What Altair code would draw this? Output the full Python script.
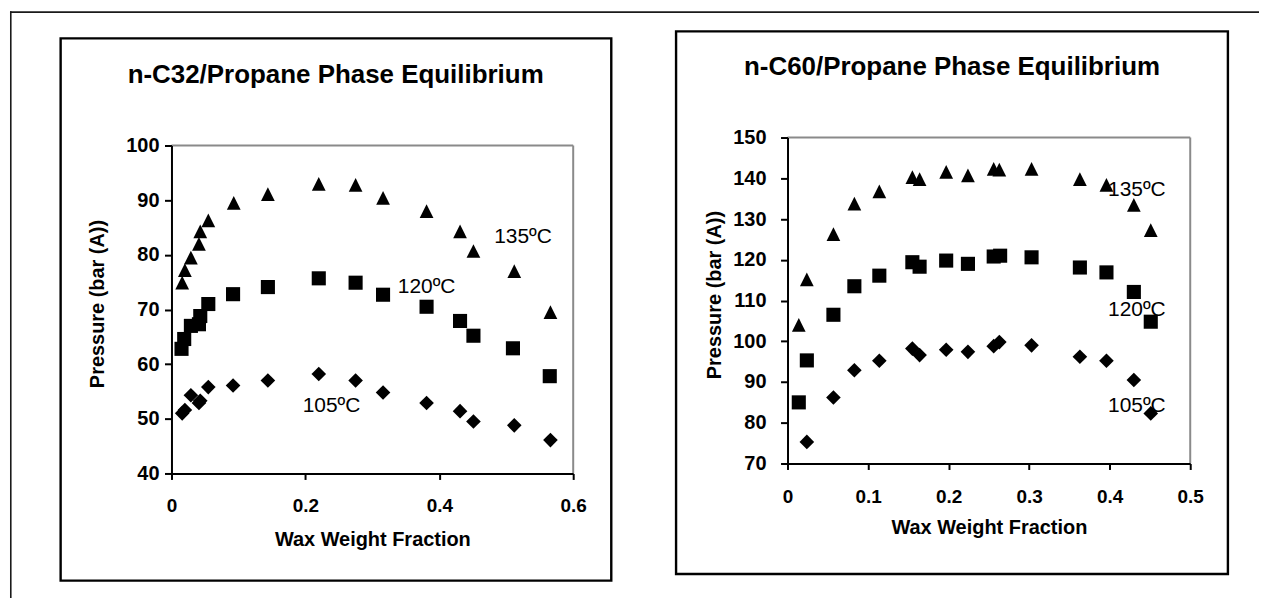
import altair as alt
import pandas as pd

FONT = "Liberation Sans"

# ---------------- n-C32 / Propane ----------------
c32_x_135 = [0.016, 0.020, 0.029, 0.041, 0.043, 0.055, 0.093, 0.144, 0.220, 0.275, 0.316, 0.381, 0.431, 0.451, 0.512, 0.566]
c32_p_135 = [74.9, 77.2, 79.5, 82.0, 84.3, 86.3, 89.5, 91.1, 93.0, 92.8, 90.4, 88.0, 84.3, 80.7, 77.0, 69.5]
c32_x_120 = [0.015, 0.019, 0.029, 0.041, 0.043, 0.055, 0.092, 0.144, 0.220, 0.275, 0.316, 0.381, 0.431, 0.451, 0.510, 0.565]
c32_p_120 = [62.8, 64.6, 67.0, 67.3, 68.8, 71.0, 72.8, 74.1, 75.7, 74.9, 72.7, 70.5, 67.9, 65.2, 62.9, 57.8]
c32_x_105 = [0.016, 0.020, 0.029, 0.041, 0.043, 0.055, 0.092, 0.144, 0.220, 0.275, 0.316, 0.381, 0.431, 0.451, 0.512, 0.566]
c32_p_105 = [51.0, 51.6, 54.3, 52.9, 53.3, 55.8, 56.1, 57.0, 58.2, 57.0, 54.8, 52.9, 51.4, 49.5, 48.8, 46.1]

# ---------------- n-C60 / Propane ----------------
c60_x_135 = [0.014, 0.024, 0.057, 0.083, 0.114, 0.155, 0.164, 0.197, 0.224, 0.256, 0.263, 0.303, 0.363, 0.396, 0.430, 0.451]
c60_p_135 = [104.0, 115.2, 126.3, 133.8, 136.8, 140.3, 139.8, 141.6, 140.7, 142.3, 142.1, 142.3, 139.8, 138.4, 133.5, 127.3]
c60_x_120 = [0.014, 0.024, 0.057, 0.083, 0.114, 0.155, 0.164, 0.197, 0.224, 0.256, 0.264, 0.303, 0.363, 0.396, 0.430, 0.451]
c60_p_120 = [85.0, 95.3, 106.5, 113.5, 116.1, 119.4, 118.3, 119.8, 119.0, 120.8, 121.0, 120.6, 118.1, 116.9, 112.1, 104.8]
c60_x_105 = [0.024, 0.057, 0.083, 0.114, 0.155, 0.164, 0.197, 0.224, 0.256, 0.263, 0.303, 0.363, 0.396, 0.430, 0.451]
c60_p_105 = [75.3, 86.2, 92.9, 95.2, 98.2, 96.6, 97.9, 97.4, 98.8, 99.8, 99.0, 96.2, 95.2, 90.5, 82.3]

series_names = ["135ºC", "120ºC", "105ºC"]
c32_label_x = [0.482, 0.338, 0.196]
c32_label_p = [82.1, 73.1, 51.2]
c60_label_x = [0.398, 0.398, 0.398]
c60_label_p = [135.6, 106.3, 82.6]

c32_title = "n-C32/Propane Phase Equilibrium"
c60_title = "n-C60/Propane Phase Equilibrium"
x_title = "Wax Weight Fraction"
y_title = "Pressure (bar (A))"
c32_x_ticks = [0, 0.2, 0.4, 0.6]
c32_y_ticks = [40, 50, 60, 70, 80, 90, 100]
c60_x_ticks = [0, 0.1, 0.2, 0.3, 0.4, 0.5]
c60_y_ticks = [70, 80, 90, 100, 110, 120, 130, 140, 150]

TRIANGLE = "M0,-1L1,1L-1,1Z"

one = pd.DataFrame({"d": [0]})


def axis_common(label_size):
    return dict(grid=False, domainColor="black", domainWidth=2, tickColor="black", tickWidth=2,
                labelFont=FONT, labelFontSize=label_size, labelFontWeight="bold", labelColor="black",
                labelFlush=False, labelOverlap=False, zindex=1,
                titleFont=FONT, titleFontSize=20, titleFontWeight="bold", titleColor="black")


def hrule(x1, x2, y, color, w):
    return alt.Chart(one).mark_rule(color=color, strokeWidth=w).encode(
        x=alt.value(x1), x2=alt.value(x2), y=alt.value(y))


def vrule(x, y1, y2, color, w):
    return alt.Chart(one).mark_rule(color=color, strokeWidth=w).encode(
        x=alt.value(x), y=alt.value(y1), y2=alt.value(y2))


def box(x1, x2, y1, y2, w):
    return alt.Chart(one).mark_rect(filled=False, stroke="black", strokeWidth=w).encode(
        x=alt.value(x1), x2=alt.value(x2), y=alt.value(y1), y2=alt.value(y2))


def panel(xs135, ps135, xs120, ps120, xs105, ps105, lab_x, lab_p, title, title_pos,
          xdom, xticks, ydom, yticks, W, H, yrange, ylab_pad, ytitle_x, ytitle_y,
          xlab_pad, xtitle_y, box_pos, extras):
    X = alt.X("x:Q", scale=alt.Scale(domain=xdom, nice=False, zero=False),
              axis=alt.Axis(values=xticks, format="~g", title=x_title, tickSize=6,
                            labelPadding=xlab_pad, titleY=xtitle_y, titleBaseline="alphabetic",
                            **axis_common(19)))
    Y = alt.Y("p:Q", scale=alt.Scale(domain=ydom, range=yrange, nice=False, zero=False),
              axis=alt.Axis(values=yticks, format="d", title=y_title, tickSize=7,
                            labelPadding=ylab_pad, titleX=ytitle_x, titleY=ytitle_y,
                            titleBaseline="middle", **axis_common(20)))

    def pts(xs, ps, shape, size):
        df = pd.DataFrame({"x": xs, "p": ps})
        return alt.Chart(df).mark_point(shape=shape, size=size, filled=True,
                                        color="black", opacity=1).encode(x=X, y=Y)

    lab_df = pd.DataFrame({"x": lab_x, "p": lab_p, "label": series_names})
    labels = alt.Chart(lab_df).mark_text(align="left", baseline="alphabetic", font=FONT,
                                         fontSize=21, color="black").encode(
        x=X, y=Y, text="label:N")
    ttl = alt.Chart(one).mark_text(text=title, align="center", baseline="alphabetic",
                                   font=FONT, fontSize=26, fontWeight="bold",
                                   color="black").encode(
        x=alt.value(title_pos[0]), y=alt.value(title_pos[1]))

    top = yrange[1]
    bottom = yrange[0]
    layers = list(extras) + [
        box(*box_pos, 2.4),
        hrule(0, W, top, "#8a8a8a", 2),
        vrule(W, top, bottom, "#8a8a8a", 2),
        pts(xs135, ps135, TRIANGLE, 190),
        pts(xs120, ps120, "square", 200),
        pts(xs105, ps105, "diamond", 215),
        labels,
        ttl,
    ]
    return alt.layer(*layers).properties(width=W, height=H)


# left panel: plot origin at page (170, 136)
left_extras = [
    alt.Chart(one).mark_rect(color="white").encode(
        x=alt.value(-162), x2=alt.value(1091), y=alt.value(-128), y2=alt.value(462)),
    hrule(-162, 1091, -125.8, "#1a1a1a", 1.6),
    vrule(-161.2, -126.6, 462, "#1a1a1a", 1.6),
]
left = panel(c32_x_135, c32_p_135, c32_x_120, c32_p_120, c32_x_105, c32_p_105,
             c32_label_x, c32_label_p, c32_title, (164.7, -55),
             [0, 0.6], c32_x_ticks, [40, 100], c32_y_ticks, 403, 337, [337, 8],
             5.5, -74.5, 166.5, 17.5, 72.7, (-111.2, 441.2, -99.5, 444.5), left_extras)

# right panel: plot origin at page (788, 136)
right = panel(c60_x_135, c60_p_135, c60_x_120, c60_p_120, c60_x_105, c60_p_105,
              c60_label_x, c60_label_p, c60_title, (165, -62.7),
              [0, 0.5], c60_x_ticks, [70, 150], c60_y_ticks, 404, 327, [327, 0],
              14.6, -73, 157.5, 18.5, 70, (-111.8, 441.8, -106.5, 437.8), [])

chart = alt.hconcat(left, right, spacing=215, bounds="flush", padding=0,
                    background="white").configure_view(stroke="transparent")

chart.save("out.html", embed_options={"renderer": "svg", "actions": False})
